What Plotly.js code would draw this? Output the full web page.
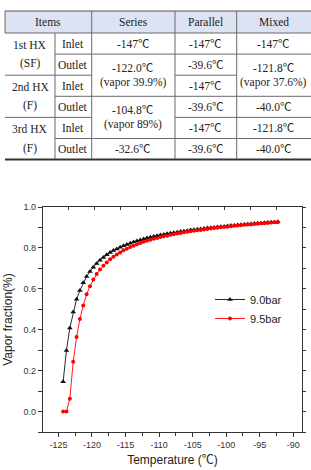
<!DOCTYPE html>
<html>
<head>
<meta charset="utf-8">
<script src="https://cdn.plot.ly/plotly-3.0.1.min.js"></script>
<style>
  html, body { margin: 0; padding: 0; background: #fff; }
  #chart { width: 311px; height: 470px; }
</style>
</head>
<body>
<div id="chart"></div>
<script>
// ---- Heat-exchanger temperature table ----
const tableHeaders = ['Items', 'Series', 'Parallel', 'Mixed'];
const hxNames = [['1st HX', '(SF)'], ['2nd HX', '(F)'], ['3rd HX', '(F)']];
const portNames = ['Inlet', 'Outlet', 'Inlet', 'Outlet', 'Inlet', 'Outlet'];
const seriesCells = [['-147℃'], ['-122.0℃', '(vapor 39.9%)'], ['-104.8℃', '(vapor 89%)'], ['-32.6℃']];
const seriesSpans = [1, 2, 2, 1];
const parallelCells = [['-147℃'], ['-39.6℃'], ['-147℃'], ['-39.6℃'], ['-147℃'], ['-39.6℃']];
const parallelSpans = [1, 1, 1, 1, 1, 1];
const mixedCells = [['-147℃'], ['-121.8℃', '(vapor 37.6%)'], ['-40.0℃'], ['-121.8℃'], ['-40.0℃']];
const mixedSpans = [1, 2, 1, 1, 1];

// ---- Vapor fraction vs temperature ----
const temperature = [-124.3, -123.8, -123.3, -122.8, -122.3, -121.8, -121.3, -120.8, -120.3, -119.8,
  -119.3, -118.8, -118.3, -117.8, -117.3, -116.8, -116.3, -115.8, -115.3, -114.8,
  -114.3, -113.8, -113.3, -112.8, -112.3, -111.8, -111.3, -110.8, -110.3, -109.8,
  -109.3, -108.8, -108.3, -107.8, -107.3, -106.8, -106.3, -105.8, -105.3, -104.8,
  -104.3, -103.8, -103.3, -102.8, -102.3, -101.8, -101.3, -100.8, -100.3, -99.8,
  -99.3, -98.8, -98.3, -97.8, -97.3, -96.8, -96.3, -95.8, -95.3, -94.8,
  -94.3, -93.8, -93.3, -92.8, -92.3];
const vapor9bar = [0.146, 0.299, 0.409, 0.487, 0.549, 0.592, 0.630, 0.660, 0.685, 0.706,
  0.724, 0.740, 0.753, 0.766, 0.777, 0.787, 0.795, 0.803, 0.810, 0.817,
  0.823, 0.829, 0.834, 0.839, 0.844, 0.848, 0.852, 0.856, 0.859, 0.863,
  0.866, 0.869, 0.872, 0.874, 0.877, 0.880, 0.882, 0.884, 0.887, 0.889,
  0.891, 0.893, 0.895, 0.897, 0.899, 0.900, 0.902, 0.904, 0.905, 0.907,
  0.909, 0.910, 0.912, 0.913, 0.915, 0.916, 0.917, 0.919, 0.920, 0.921,
  0.923, 0.924, 0.925, 0.926, 0.928];
const vapor95bar = [0.000, 0.000, 0.063, 0.243, 0.364, 0.452, 0.519, 0.573, 0.613, 0.646,
  0.672, 0.695, 0.713, 0.729, 0.745, 0.757, 0.768, 0.778, 0.788, 0.796,
  0.804, 0.811, 0.818, 0.824, 0.830, 0.835, 0.840, 0.845, 0.849, 0.853,
  0.857, 0.860, 0.864, 0.867, 0.870, 0.873, 0.876, 0.879, 0.881, 0.884,
  0.886, 0.888, 0.890, 0.893, 0.895, 0.897, 0.899, 0.901, 0.902, 0.904,
  0.906, 0.908, 0.909, 0.911, 0.913, 0.914, 0.915, 0.917, 0.918, 0.920,
  0.921, 0.922, 0.924, 0.925, 0.926];
const seriesNames = ['9.0bar', '9.5bar'];
const tempTicks = [-125, -120, -115, -110, -105, -100, -95, -90];
const tempTickLabels = ['-125', '-120', '-115', '-110', '-105', '-100', '-95', '-90'];

// ---- Geometry (table drawn on its own pixel-unit axes x3/y3) ----
const W = 311, H = 470;
const colEdges = [5, 55, 91.7, 175, 236.7, 311];
const headTop = 11, headBottom = 33, rowH = 21.1, nRows = 6;
const rowTop = r => headBottom + r * rowH;
const tableBottom = rowTop(nRows);
const serif = '"Liberation Serif", "Times New Roman", "Noto Sans CJK SC", serif';
const sans = '"Liberation Sans", Arial, "Noto Sans CJK SC", sans-serif';
const textColor = '#222';
const gridColor = '#6a6a6a';

const shapes = [];
const annotations = [];

function tline(x0, y0, x1, y1, color, width) {
  shapes.push({ type: 'line', xref: 'x3', yref: 'y3', x0, y0, x1, y1,
    line: { color: color || gridColor, width: width || 1 } });
}
function cellText(lines, c0, c1, r0, r1, gap) {
  const cx = (colEdges[c0] + colEdges[c1]) / 2;
  const cy = (r0 + r1) / 2;
  const g = gap || 15;
  lines.forEach((t, i) => {
    annotations.push({ xref: 'x3', yref: 'y3', x: cx, y: cy + (i - (lines.length - 1) / 2) * g,
      text: t, showarrow: false, xanchor: 'center', yanchor: 'middle',
      font: { family: serif, size: 11.5, color: textColor } });
  });
}

// header band
shapes.push({ type: 'rect', xref: 'x3', yref: 'y3', x0: colEdges[0], x1: colEdges[5], y0: headTop, y1: headBottom,
  fillcolor: '#dde3f3', line: { width: 0 }, layer: 'below' });
tline(colEdges[0], headTop, colEdges[5], headTop, '#555', 1.2);
tline(colEdges[0], headBottom, colEdges[5], headBottom);
tline(colEdges[0], headTop, colEdges[0], headBottom);
cellText([tableHeaders[0]], 0, 2, headTop, headBottom);
cellText([tableHeaders[1]], 2, 3, headTop, headBottom);
cellText([tableHeaders[2]], 3, 4, headTop, headBottom);
cellText([tableHeaders[3]], 4, 5, headTop, headBottom);

// vertical dividers
tline(colEdges[1], headBottom, colEdges[1], tableBottom);
[2, 3, 4].forEach(c => tline(colEdges[c], headTop, colEdges[c], tableBottom));

// a column of cells with row spans; horizontal rules only where a cell ends
function drawColumn(cells, spans, c, gap) {
  let r = 0;
  cells.forEach((lines, i) => {
    const r1 = r + spans[i];
    cellText(lines, c, c + 1, rowTop(r), rowTop(r1), gap);
    if (r1 < nRows) tline(colEdges[c], rowTop(r1), colEdges[c + 1], rowTop(r1));
    r = r1;
  });
}
drawColumn(hxNames, [2, 2, 2], 0, 19);
drawColumn(portNames.map(p => [p]), [1, 1, 1, 1, 1, 1], 1);
drawColumn(seriesCells, seriesSpans, 2, 15);
drawColumn(parallelCells, parallelSpans, 3);
drawColumn(mixedCells, mixedSpans, 4, 15);
tline(colEdges[0], tableBottom, colEdges[5], tableBottom, '#333', 2);

// ---- Plot area ----
const plotL = 43, plotR = 302, plotT = 207, plotB = 432;
const xDom = [plotL / W, plotR / W];
const yDom = [(H - plotB) / H, (H - plotT) / H];
const axisColor = '#333';
const tickFont = { family: sans, size: 9, color: '#333' };

const traces = [
  { x: temperature, y: vapor9bar, name: seriesNames[0], type: 'scatter', mode: 'lines+markers',
    line: { color: '#111', width: 0.9 }, marker: { symbol: 'triangle-up', size: 5, color: '#111' } },
  { x: temperature, y: vapor95bar, name: seriesNames[1], type: 'scatter', mode: 'lines+markers',
    line: { color: '#ff0000', width: 0.9 }, marker: { symbol: 'circle', size: 4, color: '#ff0000' } },
  // anchors for the top/right frame axes and for the table axes
  { x: [], y: [], xaxis: 'x2', yaxis: 'y2', showlegend: false, hoverinfo: 'skip' },
  { x: [], y: [], xaxis: 'x3', yaxis: 'y3', showlegend: false, hoverinfo: 'skip' }
];

const layout = {
  width: W, height: H,
  margin: { l: 0, r: 0, t: 0, b: 0 },
  paper_bgcolor: '#fff', plot_bgcolor: 'rgba(0,0,0,0)',
  showlegend: true,
  legend: { x: 210 / W, y: 1 - 285 / H, xanchor: 'left', yanchor: 'top',
    bgcolor: 'rgba(0,0,0,0)', font: { family: sans, size: 11, color: '#222' },
    tracegroupgap: 0, itemwidth: 30 },
  xaxis: { domain: xDom, anchor: 'y', range: [-127.3, -88.7],
    tickmode: 'array', tickvals: tempTicks, ticktext: tempTickLabels,
    ticks: 'outside', ticklen: 4, tickcolor: axisColor, tickwidth: 1,
    minor: { tickmode: 'linear', tick0: -127.5, dtick: 2.5, ticks: 'outside', ticklen: 3, tickcolor: axisColor },
    showline: true, linecolor: axisColor, linewidth: 1.3, showgrid: false, zeroline: false,
    tickfont: tickFont,
    title: { text: 'Temperature (℃)', font: { family: sans, size: 12, color: '#222' }, standoff: 6 } },
  yaxis: { domain: yDom, anchor: 'x', range: [-0.1, 1.0], tick0: 0, dtick: 0.2, tickformat: '.1f',
    ticks: 'outside', ticklen: 4, tickcolor: axisColor, tickwidth: 1,
    minor: { dtick: 0.1, ticks: 'outside', ticklen: 4, tickcolor: axisColor },
    showline: true, linecolor: axisColor, linewidth: 1.3, showgrid: false, zeroline: false,
    tickfont: tickFont,
    title: { text: 'Vapor fraction(%)', font: { family: sans, size: 12, color: '#222' }, standoff: 8 } },
  xaxis2: { overlaying: 'x', anchor: 'y2', side: 'top', range: [0, 10], dtick: 1,
    ticks: 'inside', ticklen: 3, tickcolor: axisColor, showticklabels: false,
    showline: true, linecolor: axisColor, linewidth: 1.3, showgrid: false, zeroline: false },
  yaxis2: { overlaying: 'y', anchor: 'x2', side: 'right', range: [-0.1, 1.0], tick0: 0, dtick: 0.1,
    ticks: 'outside', ticklen: 3, tickcolor: axisColor, showticklabels: false,
    showline: true, linecolor: axisColor, linewidth: 1.3, showgrid: false, zeroline: false },
  xaxis3: { domain: [0, 1], anchor: 'y3', range: [0, W], visible: false, fixedrange: true },
  yaxis3: { domain: [1 - 170 / H, 1], anchor: 'x3', range: [170, 0], visible: false, fixedrange: true },
  shapes, annotations
};

Plotly.newPlot('chart', traces, layout, { displayModeBar: false, staticPlot: true });
</script>
</body>
</html>
